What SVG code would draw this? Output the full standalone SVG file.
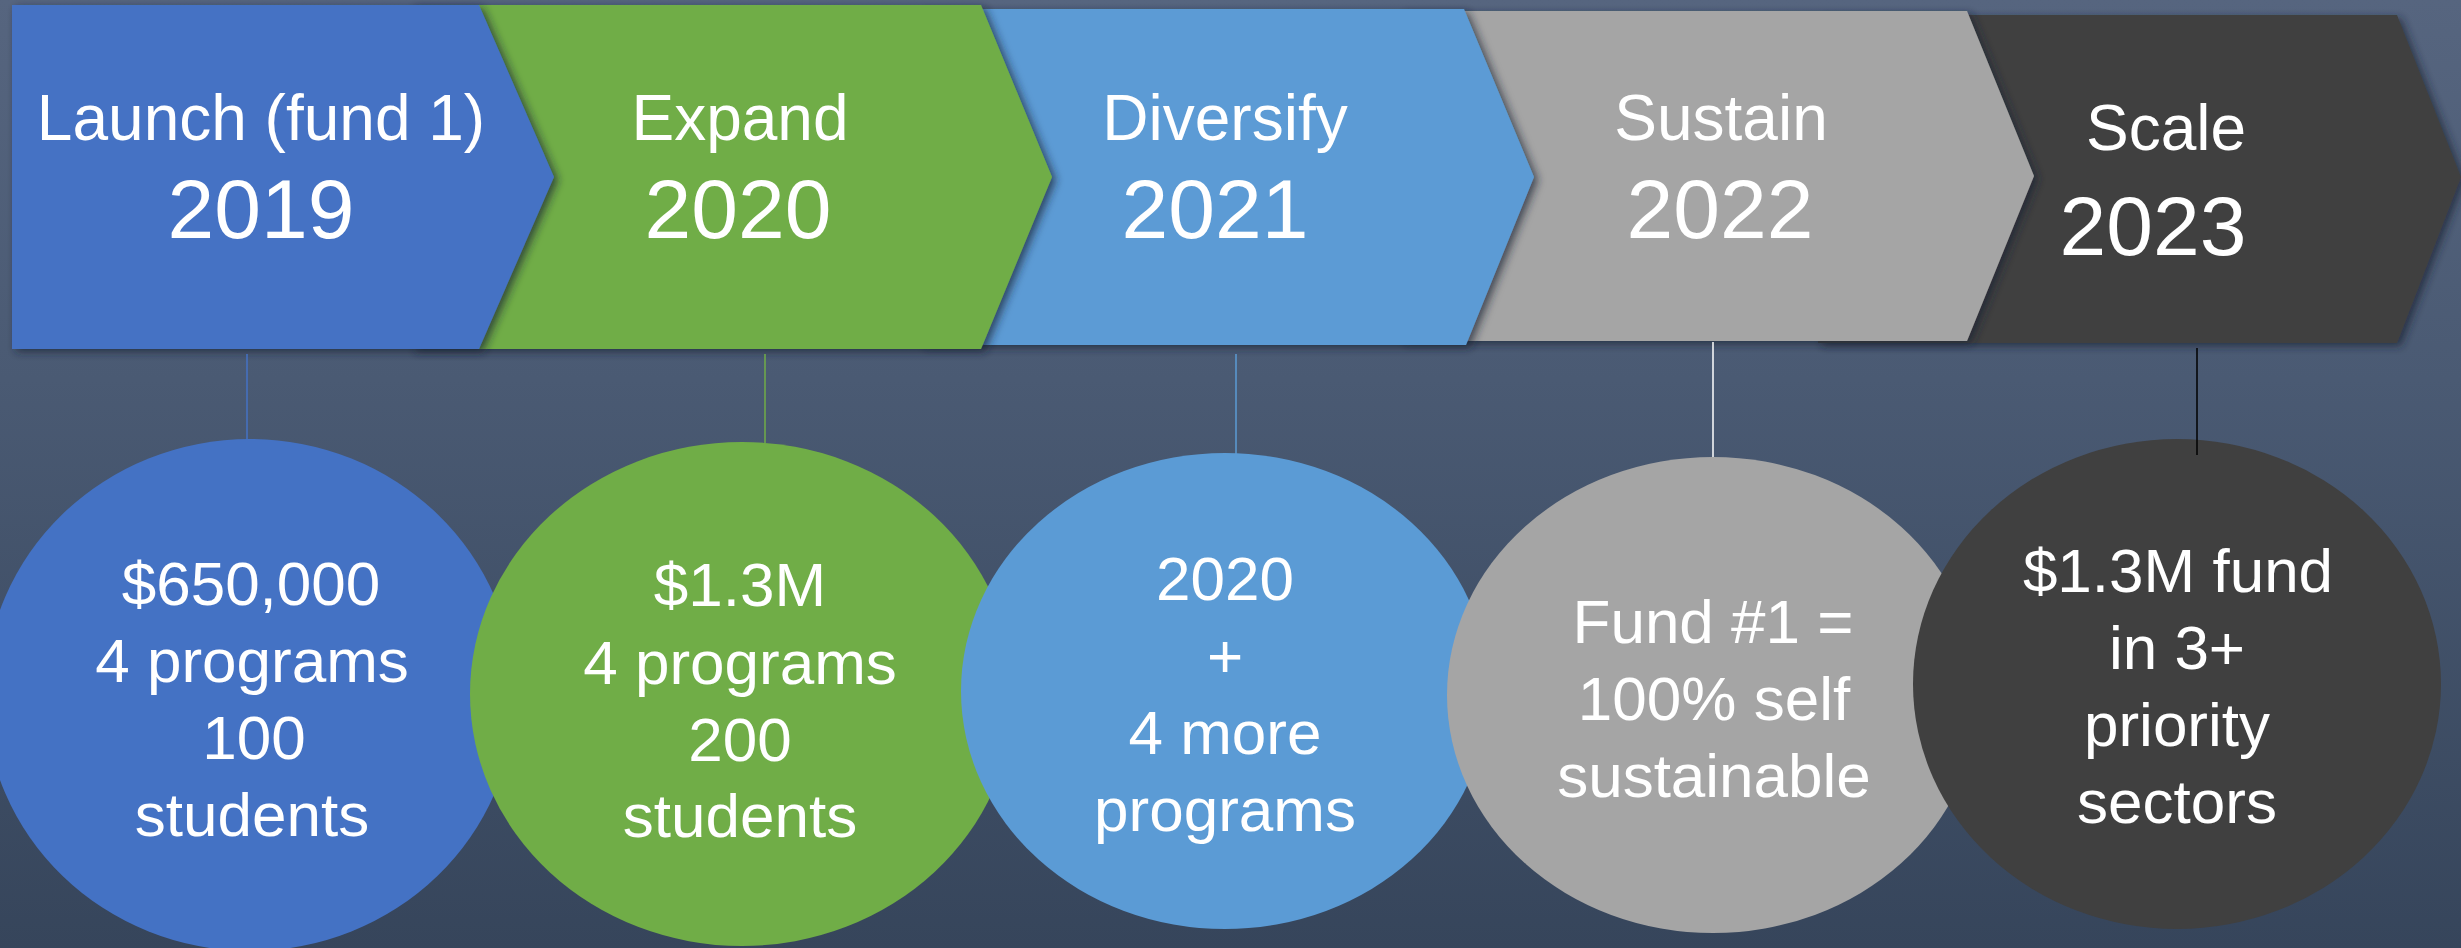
<svg xmlns="http://www.w3.org/2000/svg" width="2461" height="948" viewBox="0 0 2461 948">
<defs>
<linearGradient id="bg" x1="0" y1="0" x2="0" y2="1">
<stop offset="0" stop-color="#56657f"/>
<stop offset="0.4" stop-color="#4a5a73"/>
<stop offset="1" stop-color="#36455b"/>
</linearGradient>
<filter id="sh" x="-5%" y="-10%" width="115%" height="130%">
<feDropShadow dx="4" dy="3" stdDeviation="4" flood-color="#1a2233" flood-opacity="0.7"/>
</filter>
</defs>
<style>
text{font-family:"Liberation Sans",Arial,sans-serif;fill:#ffffff;text-anchor:middle}
.h{font-size:64px}
.y{font-size:84px}
.b{font-size:62px}
.ln{stroke-width:1.5;fill:none}
</style>
<rect width="2461" height="948" fill="url(#bg)"/>

<g id="stage-2023">
<polygon points="1818,15 2397,15 2461,177 2397,343 1818,343" fill="#404040" filter="url(#sh)"/>
<text class="h" x="2166" y="150">Scale</text>
<text class="y" x="2153" y="255">2023</text>
</g>
<g id="stage-2022">
<polygon points="1400,11 1967,11 2034,176 1967,341 1400,341 1465,176" fill="#a5a5a5" filter="url(#sh)"/>
<text class="h" x="1721" y="140">Sustain</text>
<text class="y" x="1720" y="238">2022</text>
</g>
<g id="stage-2021">
<polygon points="920,9 1464,9 1534,177 1466,345 920,345 984,177" fill="#5b9bd5" filter="url(#sh)"/>
<text class="h" x="1225" y="140">Diversify</text>
<text class="y" x="1215" y="238">2021</text>
</g>
<g id="stage-2020">
<polygon points="410,5 981,5 1052,177 981,349 410,349 480,177" fill="#70ad47" filter="url(#sh)"/>
<text class="h" x="740" y="140">Expand</text>
<text class="y" x="738" y="238">2020</text>
</g>
<g id="stage-2019">
<polygon points="12,5 479,5 554,177 479,349 12,349" fill="#4472c4" filter="url(#sh)"/>
<text class="h" x="261" y="140">Launch (fund 1)</text>
<text class="y" x="261" y="238">2019</text>
</g>

<g id="connectors">
<line class="ln" x1="247" y1="354" x2="247" y2="440" stroke="#4472c4"/>
<line class="ln" x1="765" y1="354" x2="765" y2="443" stroke="#70ad47"/>
<line class="ln" x1="1236" y1="354" x2="1236" y2="454" stroke="#5b9bd5"/>
<line class="ln" x1="1713" y1="342" x2="1713" y2="458" stroke="#ffffff"/>
</g>

<g id="detail-2019">
<ellipse cx="250" cy="695" rx="265" ry="256" fill="#4472c4"/>
<text class="b" x="251" y="605">$650,000</text>
<text class="b" x="252" y="682">4 programs</text>
<text class="b" x="254" y="759">100</text>
<text class="b" x="252" y="836">students</text>
</g>
<g id="detail-2020">
<ellipse cx="742" cy="694" rx="272" ry="252" fill="#70ad47"/>
<text class="b" x="740" y="606">$1.3M</text>
<text class="b" x="740" y="684">4 programs</text>
<text class="b" x="740" y="761">200</text>
<text class="b" x="740" y="837">students</text>
</g>
<g id="detail-2021">
<ellipse cx="1225" cy="691" rx="264" ry="238" fill="#5b9bd5"/>
<text class="b" x="1225" y="600">2020</text>
<text class="b" x="1225" y="677">+</text>
<text class="b" x="1225" y="754">4 more</text>
<text class="b" x="1225" y="831">programs</text>
</g>
<g id="detail-2022">
<ellipse cx="1713" cy="695" rx="266" ry="238" fill="#a5a5a5"/>
<text class="b" x="1713" y="643">Fund #1 =</text>
<text class="b" x="1714" y="720">100% self</text>
<text class="b" x="1714" y="797">sustainable</text>
</g>
<g id="detail-2023">
<ellipse cx="2177" cy="684" rx="264" ry="245" fill="#404040"/>
<text class="b" x="2178" y="592">$1.3M fund</text>
<text class="b" x="2177" y="669">in 3+</text>
<text class="b" x="2177" y="746">priority</text>
<text class="b" x="2177" y="823">sectors</text>
</g>
<g id="connectors-top">
<line class="ln" x1="2197" y1="348" x2="2197" y2="455" stroke="#000000"/>
</g>
</svg>
